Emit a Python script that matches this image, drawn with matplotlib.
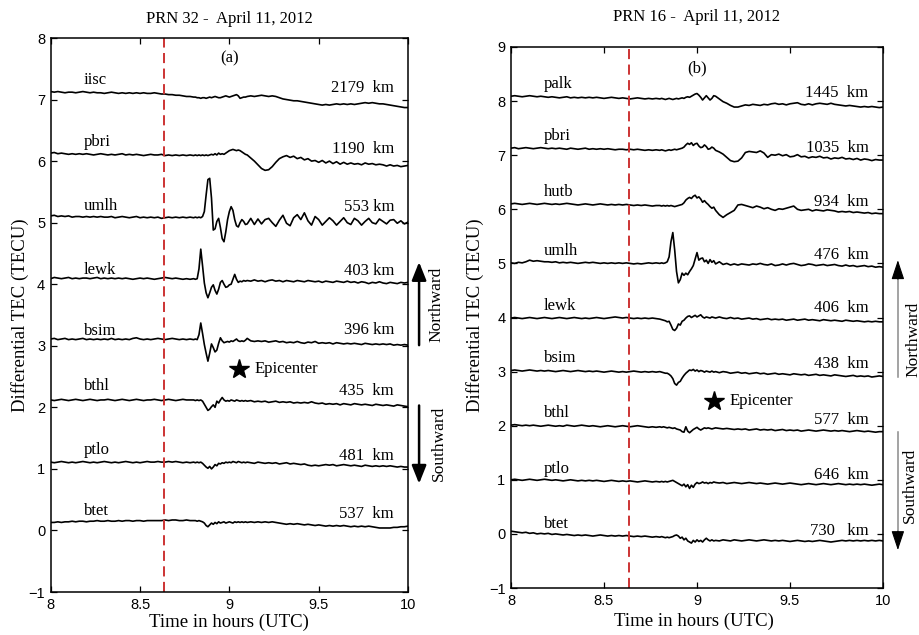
#!/usr/bin/env python3
"""Differential TEC traces for PRN 32 and PRN 16, 11 April 2012, stacked by station."""
import numpy as np
import matplotlib
matplotlib.use("Agg")
import matplotlib.pyplot as plt
from matplotlib.transforms import blended_transform_factory

# sampling grid (hours UTC): 0.02 h steps, 0.01 h around the disturbance
T_PRE = 8.0 + 0.02 * np.arange(40)
T_MID = 8.80 + 0.01 * np.arange(30)
T_POST = 9.10 + 0.02 * np.arange(46)
TIME = np.round(np.concatenate([T_PRE, T_MID, T_POST]), 3)

ONSET = 8.633   # red dashed line

# ---- panel (a): PRN 32 ----
a_iisc = [7.13, 7.12, 7.13, 7.12, 7.11, 7.12, 7.12, 7.11, 7.12, 7.13, 7.12, 7.11, 7.12, 7.11, 7.11, 7.10, 7.11, 7.12, 7.11, 7.10,
          7.11, 7.10, 7.11, 7.10, 7.11, 7.10, 7.11, 7.10, 7.10, 7.11, 7.10, 7.09, 7.09, 7.08, 7.08, 7.07, 7.07, 7.06, 7.05, 7.05,
          7.04, 7.04, 7.03, 7.03, 7.02, 7.03, 7.03, 7.02, 7.03, 7.04, 7.03, 7.04, 7.05, 7.04, 7.03, 7.03, 7.04, 7.05, 7.06, 7.05,
          7.04, 7.05, 7.06, 7.07, 7.08, 7.06, 7.02, 7.03, 7.04, 7.04,
          7.05, 7.06, 7.05, 7.06, 7.07, 7.06, 7.05, 7.06, 7.05, 7.03, 7.01, 7.00, 6.99, 6.98, 6.98, 6.97, 6.96, 6.95, 6.94, 6.93,
          6.92, 6.91, 6.92, 6.91, 6.92, 6.93, 6.92, 6.93, 6.92, 6.93, 6.92, 6.93, 6.94, 6.95, 6.94, 6.95, 6.94, 6.93, 6.93, 6.92,
          6.91, 6.90, 6.89, 6.88, 6.87, 6.87]
a_pbri = [6.13, 6.14, 6.12, 6.13, 6.12, 6.11, 6.12, 6.11, 6.12, 6.11, 6.12, 6.11, 6.10, 6.11, 6.12, 6.11, 6.10, 6.11, 6.10, 6.11,
          6.12, 6.10, 6.11, 6.10, 6.11, 6.10, 6.09, 6.10, 6.11, 6.10, 6.10, 6.11, 6.09, 6.10, 6.09, 6.10, 6.09, 6.10, 6.09, 6.10,
          6.09, 6.10, 6.09, 6.10, 6.09, 6.10, 6.09, 6.10, 6.09, 6.10, 6.11, 6.10, 6.12, 6.10, 6.13, 6.11, 6.12, 6.11, 6.13, 6.15,
          6.17, 6.18, 6.19, 6.18, 6.17, 6.18, 6.17, 6.15, 6.13, 6.11,
          6.10, 6.05, 6.00, 5.94, 5.88, 5.85, 5.86, 5.91, 5.98, 6.04, 6.07, 6.09, 6.06, 6.08, 6.04, 6.06, 6.02, 6.04, 6.00, 6.01,
          5.98, 6.01, 5.97, 6.00, 5.96, 5.99, 5.95, 5.98, 5.95, 5.97, 5.95, 5.96, 5.94, 5.97, 5.95, 5.96, 5.94, 5.95, 5.94, 5.92,
          5.94, 5.92, 5.93, 5.91, 5.92, 5.93]
a_umlh = [5.11, 5.12, 5.10, 5.11, 5.10, 5.11, 5.09, 5.10, 5.10, 5.09, 5.10, 5.09, 5.10, 5.09, 5.10, 5.09, 5.09, 5.10, 5.08, 5.09,
          5.10, 5.09, 5.08, 5.09, 5.10, 5.08, 5.09, 5.08, 5.09, 5.08, 5.09, 5.07, 5.08, 5.09, 5.08, 5.09, 5.08, 5.09, 5.08, 5.09,
          5.08, 5.09, 5.08, 5.09, 5.08, 5.10, 5.18, 5.45, 5.70, 5.72, 5.40, 4.88, 4.90, 5.02, 5.07, 4.92, 4.74, 4.69, 4.85, 5.05,
          5.18, 5.26, 5.20, 5.05, 4.95, 4.93, 5.00, 5.05, 5.02, 4.97,
          4.98, 5.07, 4.97, 5.06, 4.98, 5.05, 5.07, 5.00, 4.94, 5.04, 5.12, 4.99, 4.95, 5.08, 5.13, 5.05, 5.16, 5.03, 4.96, 5.10,
          5.05, 4.96, 5.02, 5.08, 5.03, 4.96, 5.02, 5.08, 5.00, 4.97, 5.07, 5.03, 4.96, 5.02, 5.07, 5.00, 4.98, 5.06, 5.02, 4.98,
          5.04, 5.05, 4.99, 5.03, 4.98, 5.01]
a_lewk = [4.09, 4.11, 4.10, 4.09, 4.10, 4.11, 4.09, 4.10, 4.09, 4.10, 4.10, 4.09, 4.10, 4.11, 4.09, 4.10, 4.09, 4.10, 4.09, 4.10,
          4.09, 4.10, 4.09, 4.08, 4.09, 4.10, 4.09, 4.10, 4.09, 4.08, 4.09, 4.10, 4.11, 4.10, 4.09, 4.10, 4.09, 4.08, 4.09, 4.08,
          4.09, 4.08, 4.09, 4.25, 4.57, 4.30, 4.02, 3.86, 3.78, 3.86, 3.95, 3.99, 3.90, 3.84, 3.92, 4.03, 4.06, 4.00, 3.95, 3.96,
          3.99, 4.00, 4.08, 4.16, 4.08, 4.03, 4.05, 4.04, 4.06, 4.05,
          4.06, 4.05, 4.07, 4.05, 4.06, 4.04, 4.06, 4.07, 4.05, 4.06, 4.04, 4.06, 4.05, 4.04, 4.06, 4.05, 4.04, 4.06, 4.05, 4.04,
          4.05, 4.03, 4.05, 4.04, 4.03, 4.05, 4.04, 4.03, 4.05, 4.03, 4.04, 4.02, 4.04, 4.03, 4.01, 4.03, 4.02, 4.04, 4.02, 4.01,
          4.03, 4.02, 4.01, 4.03, 4.02, 4.03]
a_bsim = [3.11, 3.12, 3.10, 3.11, 3.12, 3.10, 3.11, 3.10, 3.11, 3.12, 3.10, 3.11, 3.10, 3.11, 3.10, 3.11, 3.10, 3.12, 3.10, 3.11,
          3.10, 3.11, 3.10, 3.12, 3.13, 3.11, 3.10, 3.11, 3.10, 3.11, 3.12, 3.11, 3.10, 3.11, 3.12, 3.11, 3.10, 3.11, 3.10, 3.11,
          3.10, 3.11, 3.10, 3.18, 3.37, 3.20, 3.02, 2.88, 2.75, 2.88, 3.03, 2.97, 2.90, 2.93, 3.04, 3.13, 3.08, 3.05, 3.06, 3.07,
          3.06, 3.08, 3.07, 3.09, 3.11, 3.08, 3.07, 3.08, 3.07, 3.09,
          3.12, 3.08, 3.07, 3.08, 3.07, 3.08, 3.06, 3.07, 3.08, 3.06, 3.07, 3.05, 3.06, 3.05, 3.07, 3.05, 3.04, 3.06, 3.05, 3.07,
          3.04, 3.05, 3.04, 3.05, 3.03, 3.05, 3.04, 3.03, 3.04, 3.03, 3.04, 3.03, 3.02, 3.04, 3.03, 3.02, 3.03, 3.02, 3.03, 3.02,
          3.03, 3.01, 3.02, 3.01, 3.02, 3.01]
a_bthl = [2.12, 2.11, 2.12, 2.13, 2.12, 2.11, 2.12, 2.13, 2.12, 2.11, 2.12, 2.13, 2.12, 2.11, 2.12, 2.12, 2.13, 2.12, 2.11, 2.12,
          2.13, 2.12, 2.11, 2.12, 2.13, 2.12, 2.11, 2.12, 2.12, 2.13, 2.12, 2.11, 2.12, 2.13, 2.12, 2.11, 2.12, 2.13, 2.12, 2.12,
          2.12, 2.11, 2.12, 2.11, 2.12, 2.10, 2.05, 2.00, 1.95, 1.97, 2.01, 2.04, 2.00, 2.10, 2.07, 2.12, 2.16, 2.12, 2.10, 2.11,
          2.10, 2.12, 2.11, 2.10, 2.12, 2.11, 2.10, 2.11, 2.10, 2.11,
          2.10, 2.11, 2.09, 2.10, 2.09, 2.10, 2.08, 2.09, 2.10, 2.08, 2.09, 2.08, 2.09, 2.07, 2.08, 2.07, 2.08, 2.07, 2.09, 2.07,
          2.06, 2.07, 2.05, 2.06, 2.05, 2.06, 2.04, 2.06, 2.05, 2.04, 2.06, 2.05, 2.04, 2.05, 2.04, 2.03, 2.05, 2.04, 2.03, 2.04,
          2.03, 2.02, 2.04, 2.03, 2.02, 2.01]
a_ptlo = [1.11, 1.10, 1.11, 1.12, 1.11, 1.10, 1.11, 1.10, 1.11, 1.12, 1.11, 1.10, 1.11, 1.10, 1.11, 1.12, 1.11, 1.10, 1.11, 1.10,
          1.11, 1.12, 1.11, 1.10, 1.11, 1.10, 1.11, 1.12, 1.11, 1.11, 1.12, 1.11, 1.11, 1.12, 1.11, 1.12, 1.11, 1.10, 1.11, 1.10,
          1.11, 1.10, 1.11, 1.10, 1.11, 1.09, 1.06, 1.03, 1.01, 1.04, 1.00, 1.03, 1.07, 1.05, 1.09, 1.08, 1.10, 1.09, 1.11, 1.10,
          1.11, 1.10, 1.12, 1.11, 1.10, 1.12, 1.11, 1.10, 1.11, 1.10,
          1.11, 1.10, 1.09, 1.11, 1.10, 1.09, 1.10, 1.09, 1.10, 1.08, 1.09, 1.10, 1.08, 1.09, 1.08, 1.07, 1.08, 1.06, 1.05, 1.06,
          1.05, 1.06, 1.07, 1.06, 1.07, 1.05, 1.06, 1.07, 1.06, 1.05, 1.06, 1.05, 1.04, 1.06, 1.05, 1.04, 1.05, 1.04, 1.05, 1.04,
          1.05, 1.04, 1.03, 1.04, 1.03, 1.03]
a_btet = [0.13, 0.13, 0.14, 0.13, 0.14, 0.14, 0.15, 0.14, 0.15, 0.15, 0.14, 0.15, 0.15, 0.16, 0.15, 0.15, 0.16, 0.15, 0.15, 0.16,
          0.15, 0.16, 0.16, 0.15, 0.16, 0.16, 0.15, 0.16, 0.16, 0.16, 0.16, 0.16, 0.17, 0.16, 0.17, 0.17, 0.16, 0.16, 0.17, 0.16,
          0.16, 0.16, 0.15, 0.16, 0.15, 0.14, 0.12, 0.08, 0.06, 0.09, 0.12, 0.10, 0.13, 0.11, 0.14, 0.12, 0.13, 0.14, 0.12, 0.13,
          0.14, 0.13, 0.12, 0.14, 0.13, 0.14, 0.13, 0.14, 0.13, 0.14,
          0.13, 0.14, 0.13, 0.14, 0.13, 0.14, 0.13, 0.14, 0.13, 0.12, 0.11, 0.10, 0.11, 0.10, 0.11, 0.10, 0.09, 0.10, 0.09, 0.08,
          0.09, 0.08, 0.07, 0.08, 0.07, 0.08, 0.07, 0.08, 0.07, 0.06, 0.07, 0.06, 0.07, 0.06, 0.07, 0.06, 0.05, 0.04, 0.04, 0.04,
          0.04, 0.05, 0.05, 0.06, 0.06, 0.07]

# ---- panel (b): PRN 16 ----
b_palk = [8.09, 8.10, 8.09, 8.08, 8.09, 8.10, 8.09, 8.08, 8.09, 8.08, 8.07, 8.08, 8.07, 8.06, 8.07, 8.08, 8.06, 8.07, 8.06, 8.07,
          8.06, 8.07, 8.06, 8.07, 8.06, 8.05, 8.06, 8.07, 8.06, 8.05, 8.06, 8.05, 8.04, 8.05, 8.06, 8.05, 8.04, 8.05, 8.04, 8.05,
          8.04, 8.05, 8.04, 8.03, 8.04, 8.05, 8.04, 8.03, 8.04, 8.05, 8.04, 8.05, 8.06, 8.05, 8.07, 8.08, 8.07, 8.09, 8.11, 8.13,
          8.14, 8.11, 8.07, 8.02, 8.06, 8.10, 8.06, 8.02, 8.05, 8.10,
          8.09, 8.04, 7.99, 7.96, 7.92, 7.89, 7.89, 7.91, 7.93, 7.92, 7.94, 7.93, 7.92, 7.94, 7.93, 7.95, 7.96, 7.94, 7.95, 7.93,
          7.95, 7.96, 7.97, 7.94, 7.93, 7.95, 7.93, 7.95, 7.96, 7.95, 7.94, 7.96, 7.94, 7.93, 7.92, 7.91, 7.92, 7.91, 7.90, 7.89,
          7.90, 7.89, 7.90, 7.89, 7.88, 7.89]
b_pbri = [7.13, 7.14, 7.12, 7.13, 7.14, 7.13, 7.12, 7.13, 7.14, 7.13, 7.12, 7.13, 7.12, 7.13, 7.12, 7.11, 7.13, 7.12, 7.11, 7.12,
          7.13, 7.11, 7.12, 7.11, 7.12, 7.11, 7.12, 7.11, 7.10, 7.11, 7.11, 7.10, 7.11, 7.10, 7.11, 7.10, 7.09, 7.10, 7.09, 7.10,
          7.09, 7.10, 7.09, 7.08, 7.09, 7.10, 7.09, 7.10, 7.11, 7.10, 7.11, 7.12, 7.13, 7.15, 7.19, 7.22, 7.20, 7.23, 7.18, 7.21,
          7.22, 7.17, 7.14, 7.15, 7.19, 7.16, 7.11, 7.12, 7.15, 7.13,
          7.09, 7.06, 7.02, 6.96, 6.90, 6.88, 6.89, 6.95, 7.05, 7.07, 7.06, 7.05, 7.08, 7.04, 6.96, 7.01, 7.00, 7.02, 6.99, 7.01,
          6.97, 6.98, 7.01, 6.97, 6.98, 6.95, 6.97, 6.96, 6.98, 6.95, 6.96, 6.93, 6.95, 6.94, 6.96, 6.93, 6.94, 6.92, 6.94, 6.91,
          6.93, 6.92, 6.90, 6.92, 6.91, 6.91]
b_hutb = [6.10, 6.11, 6.10, 6.09, 6.10, 6.11, 6.10, 6.09, 6.10, 6.11, 6.10, 6.09, 6.10, 6.09, 6.10, 6.11, 6.10, 6.09, 6.08, 6.09,
          6.10, 6.09, 6.08, 6.09, 6.10, 6.09, 6.08, 6.09, 6.08, 6.09, 6.08, 6.09, 6.08, 6.07, 6.08, 6.07, 6.08, 6.07, 6.06, 6.07,
          6.07, 6.06, 6.07, 6.06, 6.07, 6.06, 6.07, 6.06, 6.05, 6.06, 6.07, 6.08, 6.09, 6.12, 6.17, 6.20, 6.22, 6.20, 6.24, 6.26,
          6.21, 6.23, 6.19, 6.13, 6.16, 6.12, 6.09, 6.05, 6.02, 6.04,
          5.98, 5.90, 5.85, 5.90, 5.94, 5.98, 6.08, 6.09, 6.07, 6.05, 6.03, 6.06, 6.04, 6.01, 6.03, 6.00, 5.98, 6.01, 6.00, 6.02,
          6.04, 6.06, 6.00, 5.98, 5.99, 6.00, 5.97, 5.99, 5.98, 5.97, 5.99, 5.98, 5.97, 5.95, 5.96, 5.95, 5.96, 5.94, 5.95, 5.94,
          5.93, 5.94, 5.92, 5.93, 5.92, 5.92]
b_umlh = [5.01, 5.00, 5.02, 5.01, 5.03, 5.06, 5.04, 5.05, 5.04, 5.03, 5.03, 5.02, 5.03, 5.01, 5.02, 5.01, 5.02, 5.01, 5.00, 5.01,
          5.02, 5.01, 5.02, 5.01, 5.00, 5.01, 5.00, 5.01, 5.00, 5.01, 5.00, 5.01, 5.00, 4.99, 5.00, 4.99, 5.00, 5.01, 5.00, 5.01,
          5.00, 5.01, 5.00, 5.01, 5.03, 5.12, 5.40, 5.57, 5.25, 4.85, 4.64, 4.70, 4.82, 4.78, 4.82, 4.79, 4.85, 4.90, 4.96, 5.08,
          5.20, 5.06, 5.09, 5.10, 5.03, 5.06, 5.00, 5.07, 5.02, 5.05,
          4.99, 5.03, 4.98, 5.00, 4.97, 4.99, 4.97, 4.99, 4.98, 4.97, 4.99, 4.98, 5.00, 4.98, 4.97, 4.99, 4.96, 4.97, 4.99, 4.97,
          4.99, 5.00, 4.98, 4.96, 4.97, 4.99, 4.98, 4.96, 4.97, 4.98, 4.96, 4.97, 4.98, 4.96, 4.95, 4.97, 4.95, 4.96, 4.94, 4.95,
          4.96, 4.94, 4.95, 4.93, 4.94, 4.93]
b_lewk = [3.99, 4.00, 3.99, 3.98, 3.99, 4.00, 3.99, 3.98, 3.99, 4.00, 3.99, 3.98, 3.99, 4.00, 3.99, 3.98, 3.99, 4.00, 3.99, 3.98,
          3.99, 3.98, 3.99, 4.00, 3.99, 3.98, 3.99, 4.00, 4.01, 4.00, 3.99, 4.00, 3.99, 3.98, 3.99, 3.98, 3.99, 3.98, 3.99, 3.98,
          3.97, 3.96, 3.95, 3.94, 3.92, 3.93, 3.86, 3.78, 3.76, 3.80, 3.88, 3.86, 3.93, 3.95, 3.99, 4.02, 4.03, 4.00, 4.02, 4.04,
          4.01, 4.03, 4.05, 4.01, 3.99, 4.01, 4.00, 3.99, 4.01, 4.00,
          3.99, 4.01, 3.99, 3.98, 4.00, 3.98, 3.99, 3.97, 3.98, 3.99, 3.97, 3.98, 3.96, 3.97, 3.98, 3.96, 3.97, 3.96, 3.97, 3.95,
          3.96, 3.97, 3.95, 3.96, 3.97, 3.95, 3.96, 3.95, 3.94, 3.96, 3.95, 3.94, 3.95, 3.94, 3.93, 3.95, 3.94, 3.93, 3.94, 3.93,
          3.92, 3.93, 3.92, 3.93, 3.92, 3.92]
b_bsim = [3.02, 3.03, 3.02, 3.01, 3.02, 3.03, 3.02, 3.01, 3.02, 3.01, 3.02, 3.01, 3.00, 3.01, 3.02, 3.01, 3.00, 3.01, 3.02, 3.01,
          3.00, 3.01, 3.00, 3.01, 3.00, 2.99, 3.00, 3.01, 3.00, 2.99, 3.00, 2.99, 3.00, 3.01, 3.00, 2.99, 3.00, 2.99, 3.00, 2.99,
          3.00, 2.99, 2.98, 2.97, 2.97, 2.95, 2.92, 2.87, 2.78, 2.75, 2.80, 2.82, 2.88, 2.93, 2.97, 3.00, 3.03, 3.02, 3.04, 3.01,
          3.03, 3.00, 3.02, 3.01, 2.99, 3.01, 3.00, 2.99, 3.01, 2.99,
          3.00, 2.98, 3.00, 2.99, 2.97, 2.98, 2.99, 2.97, 2.98, 2.96, 2.97, 2.98, 2.96, 2.97, 2.95, 2.96, 2.97, 2.95, 2.96, 2.95,
          2.94, 2.96, 2.95, 2.94, 2.95, 2.93, 2.94, 2.95, 2.93, 2.94, 2.93, 2.92, 2.94, 2.93, 2.92, 2.91, 2.92, 2.93, 2.91, 2.92,
          2.91, 2.92, 2.90, 2.91, 2.92, 2.91]
b_bthl = [2.01, 2.02, 2.01, 2.00, 2.01, 2.00, 2.01, 2.00, 1.99, 2.00, 2.01, 2.00, 1.99, 2.00, 1.99, 2.01, 2.00, 1.99, 2.00, 2.01,
          2.00, 1.99, 2.00, 1.99, 1.98, 1.99, 2.00, 1.99, 1.98, 1.99, 2.00, 1.99, 1.98, 1.99, 2.00, 1.99, 1.98, 1.97, 1.98, 1.97,
          1.98, 1.97, 1.98, 1.97, 1.96, 1.97, 1.96, 1.95, 1.96, 1.94, 1.93, 1.92, 1.89, 1.88, 1.98, 1.90, 1.87, 1.90, 1.93, 1.95,
          1.97, 1.94, 1.92, 1.94, 1.96, 1.95, 1.96, 1.95, 1.94, 1.95,
          1.96, 1.95, 1.94, 1.95, 1.94, 1.93, 1.94, 1.93, 1.94, 1.92, 1.93, 1.94, 1.92, 1.93, 1.92, 1.93, 1.91, 1.92, 1.93, 1.91,
          1.92, 1.91, 1.92, 1.90, 1.91, 1.92, 1.91, 1.90, 1.91, 1.92, 1.91, 1.90, 1.91, 1.90, 1.91, 1.90, 1.89, 1.90, 1.91, 1.90,
          1.89, 1.90, 1.89, 1.88, 1.89, 1.89]
b_ptlo = [1.00, 1.01, 1.00, 0.99, 1.00, 1.01, 1.00, 0.99, 1.00, 1.01, 1.00, 0.99, 1.00, 0.99, 0.98, 0.99, 1.00, 0.99, 0.98, 0.99,
          0.98, 0.99, 0.98, 0.99, 0.98, 0.97, 0.98, 0.99, 0.98, 0.97, 0.98, 0.97, 0.98, 0.97, 0.96, 0.97, 0.98, 0.97, 0.96, 0.97,
          0.96, 0.97, 0.96, 0.97, 0.96, 0.97, 0.98, 0.99, 0.97, 0.95, 0.93, 0.91, 0.89, 0.92, 0.87, 0.91, 0.84, 0.90, 0.86, 0.92,
          0.95, 0.93, 0.94, 0.96, 0.94, 0.95, 0.93, 0.95, 0.94, 0.96,
          0.95, 0.94, 0.95, 0.93, 0.94, 0.95, 0.94, 0.93, 0.94, 0.95, 0.94, 0.93, 0.94, 0.93, 0.92, 0.93, 0.94, 0.93, 0.92, 0.93,
          0.94, 0.93, 0.92, 0.91, 0.92, 0.93, 0.92, 0.91, 0.92, 0.93, 0.92, 0.91, 0.92, 0.93, 0.92, 0.91, 0.92, 0.91, 0.92, 0.91,
          0.92, 0.91, 0.90, 0.91, 0.92, 0.91]
b_btet = [0.05, 0.04, 0.03, 0.02, 0.03, 0.01, 0.02, 0.00, 0.01, 0.00, 0.01, -0.01, 0.00, -0.01, -0.02, -0.01, -0.02, -0.03, -0.02, -0.03,
          -0.02, -0.03, -0.04, -0.03, -0.02, -0.03, -0.04, -0.03, -0.04, -0.03, -0.04, -0.03, -0.04, -0.05, -0.04, -0.05, -0.04, -0.05, -0.06, -0.05,
          -0.06, -0.05, -0.06, -0.07, -0.06, -0.07, -0.06, -0.05, -0.03, -0.02, -0.04, -0.08, -0.06, -0.11, -0.08, -0.13, -0.15, -0.17, -0.12, -0.15,
          -0.11, -0.14, -0.12, -0.15, -0.11, -0.08, -0.11, -0.13, -0.11, -0.13,
          -0.12, -0.13, -0.11, -0.12, -0.13, -0.11, -0.12, -0.13, -0.12, -0.11, -0.12, -0.13, -0.12, -0.11, -0.12, -0.13, -0.12, -0.13, -0.12, -0.13,
          -0.14, -0.13, -0.12, -0.13, -0.14, -0.13, -0.14, -0.13, -0.12, -0.13, -0.14, -0.15, -0.14, -0.13, -0.12, -0.13, -0.12, -0.13, -0.12, -0.13,
          -0.12, -0.13, -0.12, -0.13, -0.12, -0.13]

A_TRACES = [a_iisc, a_pbri, a_umlh, a_lewk, a_bsim, a_bthl, a_ptlo, a_btet]
A_STATIONS = ["iisc", "pbri", "umlh", "lewk", "bsim", "bthl", "ptlo", "btet"]
A_DIST = ["2179  km", "1190  km", "553 km", "403 km", "396 km", "435  km", "481  km", "537  km"]

B_TRACES = [b_palk, b_pbri, b_hutb, b_umlh, b_lewk, b_bsim, b_bthl, b_ptlo, b_btet]
B_STATIONS = ["palk", "pbri", "hutb", "umlh", "lewk", "bsim", "bthl", "ptlo", "btet"]
B_DIST = ["1445  km", "1035  km", "934  km", "476  km", "406  km", "438  km", "577  km", "646  km", "730   km"]

# label baselines (TECU) for station names and distances
A_NAME_Y = [7.25, 6.25, 5.21, 4.17, 3.17, 2.28, 1.24, 0.255]
A_DIST_Y = [7.12, 6.135, 5.19, 4.15, 3.19, 2.195, 1.14, 0.21]
B_NAME_Y = [8.25, 7.28, 6.25, 5.16, 4.14, 3.17, 2.16, 1.13, 0.10]
B_DIST_Y = [8.08, 7.06, 6.06, 5.08, 4.11, 3.06, 2.04, 1.01, -0.02]

SERIF = "Liberation Serif"
SANS = "Liberation Sans"
W, H = 920, 635


def draw_panel(ax, traces, stations, dists, name_y, dist_y, ymax, tag, tag_y,
               epi, name_x):
    for vals, name, dist, ny, dy in zip(traces, stations, dists, name_y, dist_y):
        assert len(vals) == len(TIME), (name, len(vals))
        ax.plot(TIME, vals, color="black", lw=1.2)
        ax.text(name_x, ny, name, fontsize=12, family=SERIF, ha="left", va="baseline")
        ax.text(9.922, dy, dist, fontsize=12, family=SERIF, ha="right", va="baseline")
    ax.axvline(ONSET, color="#cc3333", lw=1.4, ls=(0, (5.2, 2.8)))
    ax.plot(epi[0], epi[1], marker="*", ms=15, color="black")
    ax.text(epi[0] + 0.085, epi[1], "Epicenter", fontsize=12, family=SERIF, va="center")
    ax.text(9.0, tag_y, tag, fontsize=12, family=SERIF, ha="center", va="center")

    ax.set_xlim(8, 10)
    ax.set_ylim(-1, ymax)
    ax.set_xticks([8, 8.5, 9, 9.5, 10])
    ax.set_xticklabels(["8", "8.5", "9", "9.5", "10"])
    ax.set_yticks(range(-1, ymax + 1))
    ax.tick_params(direction="in", top=True, right=True, length=4.5, width=0.9,
                   labelsize=10.5, labelfontfamily=SANS, pad=4)
    for s in ax.spines.values():
        s.set_linewidth(1.1)


def draw_arrows(ax, x, north, south, nx, ny, sx, sy, bold):
    tr = blended_transform_factory(ax.transAxes, ax.transData)
    for (y0, y1) in (north, south):
        if bold:
            ax.annotate("", xy=(x, y1), xytext=(x, y0), xycoords=tr, textcoords=tr,
                        annotation_clip=False,
                        arrowprops=dict(arrowstyle="-|>,head_length=0.55,head_width=0.22",
                                        mutation_scale=20, lw=1.8, color="black",
                                        shrinkA=0, shrinkB=0))
        else:
            step = 0.35 if y1 > y0 else -0.35
            ax.plot([x, x], [y0, y1 - step * 0.3], transform=tr, clip_on=False,
                    color="#8a8a8a", lw=1.1)
            ax.annotate("", xy=(x, y1), xytext=(x, y1 - step), xycoords=tr, textcoords=tr,
                        annotation_clip=False,
                        arrowprops=dict(arrowstyle="-|>,head_length=0.6,head_width=0.2",
                                        mutation_scale=20, lw=0.8, color="black",
                                        shrinkA=0, shrinkB=0))
    ax.text(nx, ny, "Northward", transform=tr, rotation=90, fontsize=12.5,
            family=SERIF, ha="center", va="center")
    ax.text(sx, sy, "Southward", transform=tr, rotation=90, fontsize=12.5,
            family=SERIF, ha="center", va="center")


def main():
    fig = plt.figure(figsize=(W / 100, H / 100), dpi=100)
    ax_a = fig.add_axes([50.7 / W, 1 - 592 / H, 357.3 / W, 554 / H])
    ax_b = fig.add_axes([511 / W, 1 - 588 / H, 372 / W, 541 / H])

    draw_panel(ax_a, A_TRACES, A_STATIONS, A_DIST, A_NAME_Y, A_DIST_Y, 8, "(a)", 7.67,
               (9.054, 2.62), 8.185)
    draw_panel(ax_b, B_TRACES, B_STATIONS, B_DIST, B_NAME_Y, B_DIST_Y, 9, "(b)", 8.61,
               (9.09, 2.46), 8.175)

    draw_arrows(ax_a, 1.031, (3.01, 4.36), (2.03, 0.76), 1.081, 3.67, 1.087, 1.41, True)
    draw_arrows(ax_b, 1.040, (2.90, 5.06), (1.88, -0.30), 1.081, 3.60, 1.073, 0.90, False)

    fig.text(229 / W, 1 - 19.3 / H, "PRN 32 -  April 11, 2012", fontsize=12,
             family=SERIF, ha="center", va="center")
    fig.text(697 / W, 1 - 17.3 / H, "PRN 16 -  April 11, 2012", fontsize=12,
             family=SERIF, ha="center", va="center")
    for x in (20 / W, 475 / W):
        fig.text(x, 1 - 315 / H, "Differential TEC (TECU)", rotation=90, fontsize=13.5,
                 family=SERIF, ha="center", va="center")
    fig.text(229 / W, 1 - 622 / H, "Time in hours (UTC)", fontsize=13.5,
             family=SERIF, ha="center", va="center")
    fig.text(694 / W, 1 - 621 / H, "Time in hours (UTC)", fontsize=13.5,
             family=SERIF, ha="center", va="center")

    fig.savefig("out.png", dpi=100)
    plt.close(fig)


if __name__ == "__main__":
    main()
